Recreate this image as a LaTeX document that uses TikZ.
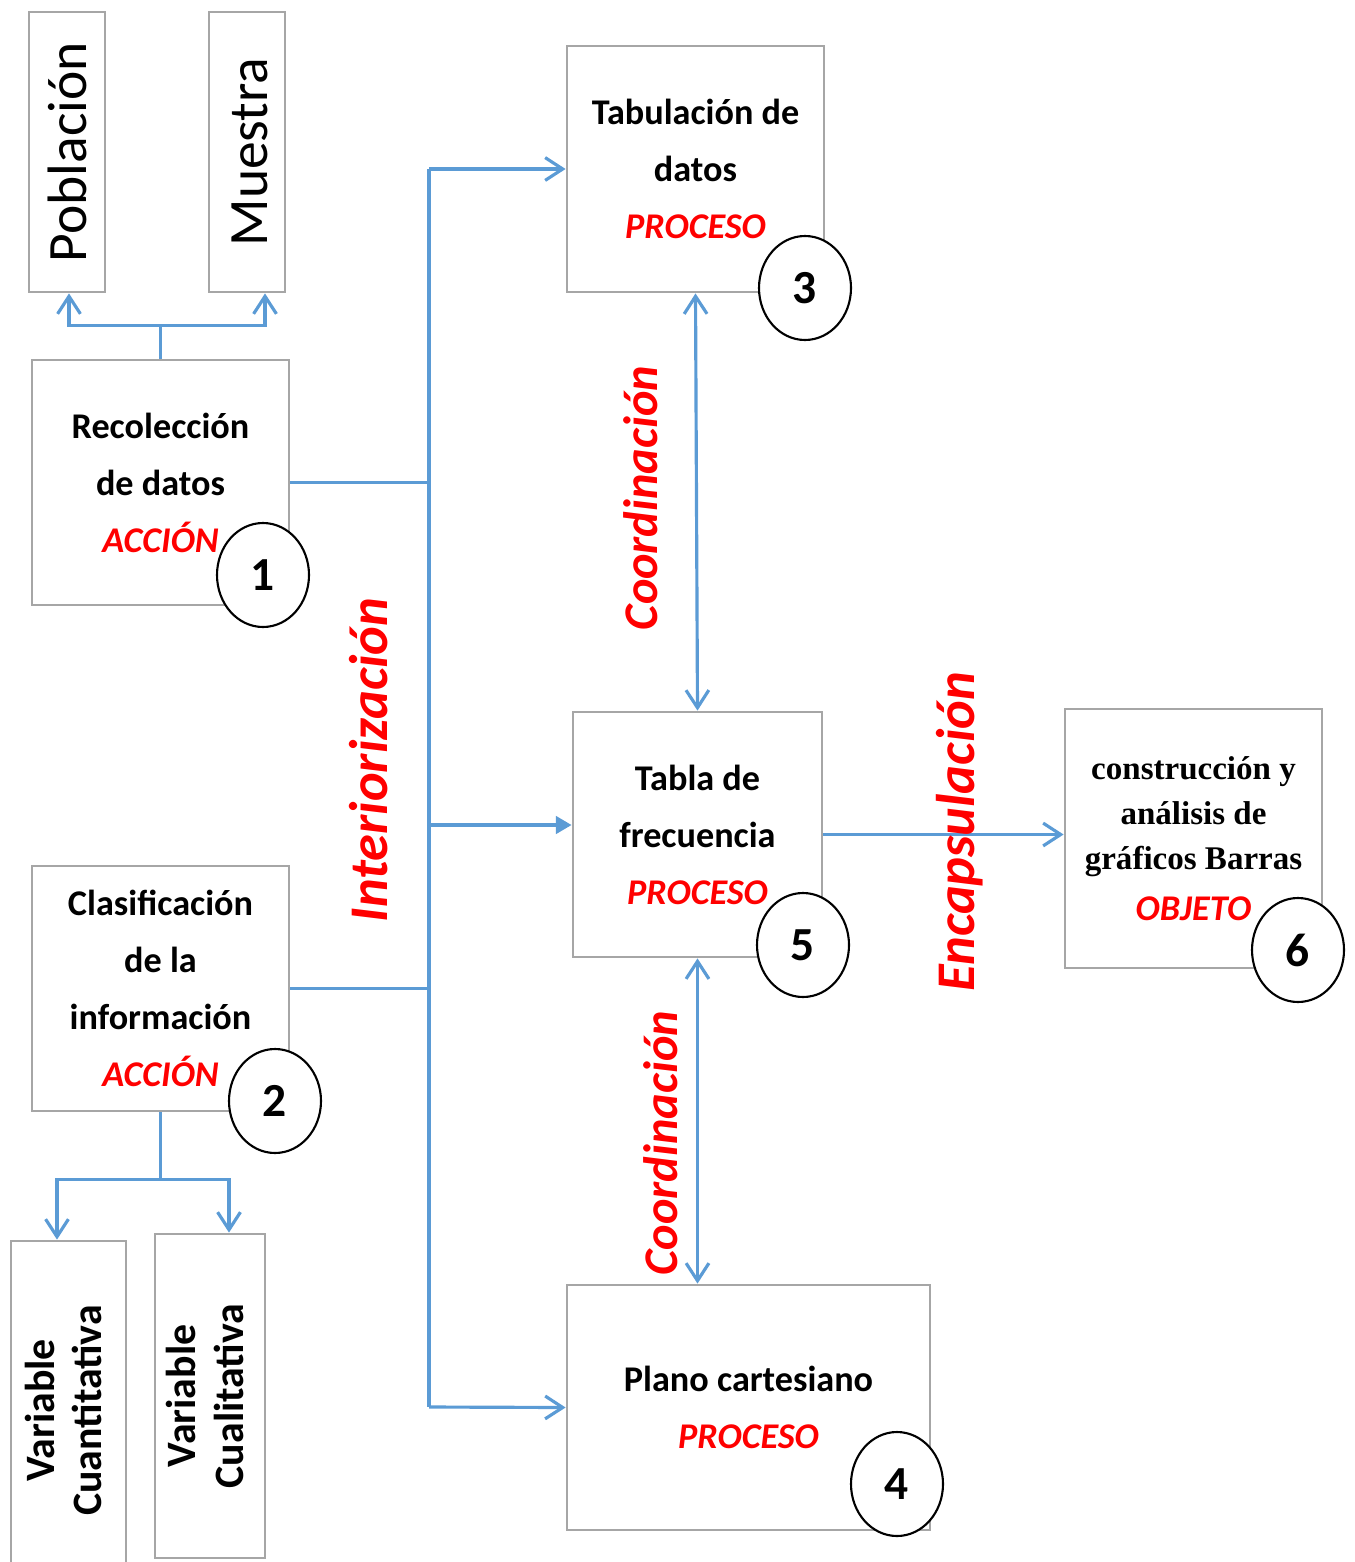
\documentclass[tikz,border=0pt]{standalone}
\usepackage{fontspec}
\setmainfont{Carlito}
\newfontfamily\serifbold{Liberation Serif}
\usepackage{xcolor}
\usetikzlibrary{arrows.meta, positioning, shapes.geometric}
\definecolor{linkblue}{HTML}{5B9BD5}
\definecolor{boxgray}{HTML}{A6A6A6}
\newcommand{\tipo}[1]{{\color{red}\itshape #1}}
\newcommand{\vtext}[1]{\rotatebox{90}{\begin{tabular}{@{}c@{}}#1\end{tabular}}}

\begin{document}
\begin{tikzpicture}[
  box/.style={draw=boxgray, line width=0.8pt, align=center, inner sep=0pt,
    font=\bfseries\fontsize{10.3}{16.2}\selectfont},
  num/.style={ellipse, draw, fill=white, line width=0.6pt, inner sep=0pt,
    minimum width=0.92cm, minimum height=1.04cm,
    font=\bfseries\fontsize{13.5}{14}\selectfont},
  link/.style={draw=linkblue, line width=0.9pt},
  stage/.style={rotate=90, text=red, font=\bfseries\itshape\fontsize{15.5}{16}\selectfont},
  >={Straight Barb[length=5pt, width=6.5pt]}
]
\clip (0,0) rectangle (13.54,-15.62);

% Left column
\node[box, minimum width=0.76cm, minimum height=2.80cm, font=\fontsize{15.8}{18}\selectfont] (pobl) at (0.67,-1.52) {\vtext{\raisebox{-0.07cm}{Población}}};
\node[box, minimum width=0.76cm, minimum height=2.80cm, font=\fontsize{15.8}{18}\selectfont] (mues) at (2.47,-1.52) {\vtext{\raisebox{-0.08cm}{Muestra}}};
\node[box, minimum width=2.57cm, minimum height=2.45cm] (reco) at (1.605,-4.825) {Recolección\\de datos\\\tipo{ACCIÓN}};
\node[box, minimum width=2.57cm, minimum height=2.45cm] (clas) at (1.605,-9.885) {Clasificación\\de la\\información\\\tipo{ACCIÓN}};
\node[box, minimum width=1.15cm, minimum height=3.39cm, font=\bfseries\fontsize{11.9}{13.5}\selectfont] (vcuan) at (0.685,-14.105) {\vtext{Variable\\Cuantitativa}};
\node[box, minimum width=1.10cm, minimum height=3.24cm, font=\bfseries\fontsize{11.9}{13.5}\selectfont] (vcual) at (2.10,-13.96) {\vtext{Variable\\Cualitativa}};

% Middle column
\node[box, minimum width=2.57cm, minimum height=2.46cm] (tabu) at (6.955,-1.69) {Tabulación de\\datos\\\tipo{PROCESO}};
\node[box, minimum width=2.49cm, minimum height=2.45cm] (tabla) at (6.975,-8.345) {Tabla de\\frecuencia\\\tipo{PROCESO}};
\node[box, minimum width=3.63cm, minimum height=2.45cm] (plano) at (7.485,-14.075) {Plano cartesiano\\\tipo{PROCESO}};

% Right column
\node[box, minimum width=2.57cm, minimum height=2.59cm, font=\serifbold\bfseries\fontsize{9.4}{12.9}\selectfont] (cons) at (11.935,-8.385) {construcción y\\análisis de\\gráficos Barras\\[1.5pt]{\rmfamily\fontsize{10.3}{12}\selectfont\tipo{OBJETO}}};

% Connectors
\coordinate (jt) at (4.29,-1.69);
\coordinate (jm) at (4.29,-8.25);
\coordinate (jb) at (4.29,-14.07);
\draw[link,->] (reco.north) -- ++(0,0.33) -| ([xshift=0.02cm]pobl.south);
\draw[link,->] (reco.north) -- ++(0,0.33) -| ([xshift=0.18cm]mues.south);
\draw[link] (reco.east) -- (reco.east -| jt);
\draw[link] (clas.east) -- (clas.east -| jt);
\draw[link] (jt) -- (jb);
\draw[link,->] (jt) -- (tabu.west);
\draw[link,-{Triangle[length=4.5pt,width=5pt]}] (jm) -- (jm -| tabla.west);
\draw[link,->] (jb) -- (plano.west);
\draw[link,->] (clas.south) -- ++(0,-0.67) -| ([xshift=-0.115cm]vcuan.north);
\draw[link,->] (clas.south) -- ++(0,-0.67) -| ([xshift=0.19cm]vcual.north);
\draw[link,<->] (tabu.south) -- (tabla.north);
\draw[link,<->] (tabla.south) -- (tabla.south |- plano.north);
\draw[link,->] (tabla.east) -- (tabla.east -| cons.west);

% Numbers
\node[num] (n1) at (2.63,-5.75) {1};
\node[num] (n2) at (2.75,-11.01) {2};
\node[num] (n3) at (8.05,-2.88) {3};
\node[num] (n5) at (8.03,-9.45) {5};
\node[num] (n4) at (8.97,-14.84) {4};
\node[num] (n6) at (12.98,-9.50) {6};

% Stages
\node[stage] (lint) at (3.69,-7.60) {Interiorización};
\node[stage, font=\bfseries\itshape\fontsize{13.75}{14}\selectfont] (lco1) at (6.41,-4.98) {Coordinación};
\node[stage, font=\bfseries\itshape\fontsize{13.75}{14}\selectfont] (lco2) at (6.61,-11.43) {Coordinación};
\node[stage] (lenc) at (9.60,-8.32) {Encapsulación};
\end{tikzpicture}
\end{document}
